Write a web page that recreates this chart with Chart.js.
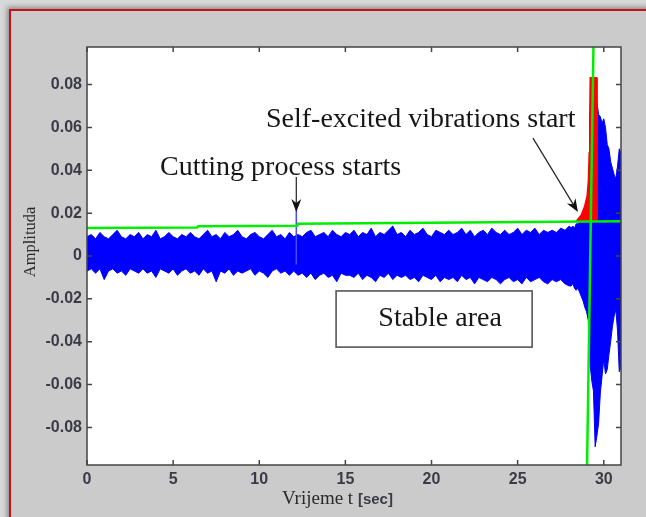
<!DOCTYPE html>
<html>
<head>
<meta charset="utf-8">
<script src="https://cdn.jsdelivr.net/npm/chart.js@4/dist/chart.umd.min.js"></script>
<style>
  html, body { margin: 0; padding: 0; background: #d8d8d8; overflow: hidden; }
  #frame { position: absolute; left: 9px; top: 9px; width: 700px; height: 600px;
    border-left: 2px solid #c4121a; border-top: 2px solid #c4121a; background: #cbcbcb;
    box-shadow: -2px -2px 5px rgba(0,0,0,0.35); }
  #wrap { position: absolute; left: 0; top: 0; width: 646px; height: 517px; }
</style>
</head>
<body>
<div id="frame"></div>
<div id="wrap"><canvas id="myChart"></canvas></div>
<script>
// signal envelope in thousandths, one value every 0.25 s from 0 to 28 s
const coarseStep = 0.25
const coarseHi = [
  9, 10, 8, 11, 9, 8, 10, 12, 9, 8, 10, 9, 11,
  8, 10, 9, 12, 8, 9, 11, 9, 8, 10, 9, 11,
  9, 8, 10, 12, 9, 10, 8, 11, 9, 10, 12, 9,
  8, 10, 11, 9, 8, 10, 12, 9, 10, 8, 11, 9,
  10, 9, 11, 12, 9, 10, 11, 9, 12, 10, 9, 11,
  10, 12, 9, 11, 10, 13, 9, 11, 10, 12, 14, 10,
  11, 9, 12, 10, 11, 13, 10, 9, 12, 11, 10, 12,
  10, 11, 13, 10, 12, 9, 11, 12, 10, 13, 11, 10,
  12, 10, 11, 13, 10, 12, 11, 13, 10, 12, 11, 12,
  11, 13, 12, 14
]
const coarseLo = [
  -7, -6, -8, -6, -11, -7, -6, -8, -7, -9, -6, -7, -8,
  -6, -8, -7, -10, -6, -7, -8, -6, -9, -7, -6, -8,
  -7, -9, -6, -8, -7, -12, -7, -8, -6, -9, -7, -8,
  -7, -6, -9, -7, -8, -10, -7, -6, -8, -7, -9, -7,
  -9, -8, -10, -8, -11, -9, -8, -10, -9, -12, -8, -9,
  -9, -10, -8, -11, -9, -10, -12, -9, -10, -8, -11, -9,
  -10, -9, -11, -10, -12, -9, -10, -11, -9, -12, -10, -11,
  -10, -12, -9, -11, -10, -13, -10, -11, -12, -10, -11, -13,
  -11, -10, -12, -11, -13, -10, -12, -11, -10, -12, -13, -11,
  -12, -11, -13, -14
]
// finer envelope, every 0.1 s from 28.1 to 31 s
const fineStart = 28.1
const fineStep = 0.1
const fineHi = [13, 14, 13, 15, 15, 16, 17, 18, 20, 22, 30, 45, 68, 73, 71,
  72, 66, 65, 62, 64, 60, 52, 50, 44, 41, 38, 36, 42, 50, 48]
const fineLo = [-14, -13, -15, -16, -15, -17, -19, -21, -24, -26, -30, -50, -58, -63, -89,
  -84, -78, -64, -56, -48, -55, -53, -46, -40, -33, -28, -25, -35, -54, -52]

// stability threshold (green) and chatter onset
const greenT = [0, 6.4, 6.45, 12.2, 12.25, 20, 31]
const greenA = [0.0131, 0.0133, 0.0139, 0.0141, 0.0150, 0.0155, 0.0162]
const onsetT = [29.03, 29.4]
const onsetA = [-0.0975, 0.0975]
// growing self-excited part (red)
const redT = [28.4, 28.7, 28.9, 29.05, 29.12, 29.17, 29.2, 29.23, 29.57, 29.6]
const redA = [0.016, 0.019, 0.023, 0.028, 0.035, 0.048, 0.065, 0.083, 0.083, 0.016]
// first contact of the tool
const cutT = 12.15
const cutA = [-0.004, 0.0225]

const xTicks = [0, 5, 10, 15, 20, 25, 30]
const yTicks = [-0.08, -0.06, -0.04, -0.02, 0, 0.02, 0.04, 0.06, 0.08]

function handleOnLoad(){
  let hiPts = []
  let loPts = []
  coarseHi.forEach((v, i) => hiPts.push({x: i * coarseStep, y: v / 1000}))
  coarseLo.forEach((v, i) => loPts.push({x: i * coarseStep, y: v / 1000}))
  fineHi.forEach((v, i) => hiPts.push({x: fineStart + i * fineStep, y: v / 1000}))
  fineLo.forEach((v, i) => loPts.push({x: fineStart + i * fineStep, y: v / 1000}))

  const pair = (xs, ys) => xs.map((x, i) => ({x: x, y: ys[i]}))
  const serif = "'Liberation Serif', 'Times New Roman', serif"
  const sans = "'Liberation Sans', Arial, sans-serif"

  const decor = {
    id: 'decor',
    beforeDatasetsDraw(chart){
      const {ctx, chartArea: a} = chart
      ctx.save()
      ctx.fillStyle = '#ffffff'
      ctx.fillRect(a.left, a.top, a.right - a.left, a.bottom - a.top)
      ctx.restore()
    },
    afterDatasetsDraw(chart){
      const {ctx, chartArea: a, scales} = chart
      ctx.save()
      ctx.strokeStyle = '#444'
      ctx.lineWidth = 1.5
      ctx.beginPath()
      xTicks.forEach(v => {
        const px = scales.x.getPixelForValue(v)
        ctx.moveTo(px, a.bottom); ctx.lineTo(px, a.bottom - 5)
        ctx.moveTo(px, a.top); ctx.lineTo(px, a.top + 5)
      })
      yTicks.forEach(v => {
        const py = scales.y.getPixelForValue(v)
        ctx.moveTo(a.left, py); ctx.lineTo(a.left + 5, py)
        ctx.moveTo(a.right, py); ctx.lineTo(a.right - 5, py)
      })
      ctx.stroke()
      ctx.strokeRect(a.left, a.top, a.right - a.left, a.bottom - a.top)
      ctx.restore()
    },
    afterDraw(chart){
      const {ctx, scales} = chart
      const X = v => scales.x.getPixelForValue(v)
      const Y = v => scales.y.getPixelForValue(v)
      ctx.save()

      // axis titles
      ctx.fillStyle = '#2a2a2a'
      ctx.font = '16.5px ' + serif
      ctx.textAlign = 'center'
      ctx.textBaseline = 'middle'
      ctx.save()
      ctx.translate(31, 242)
      ctx.rotate(-Math.PI / 2)
      ctx.fillText('Amplituda', 0, 0)
      ctx.restore()
      ctx.textAlign = 'left'
      ctx.textBaseline = 'alphabetic'
      ctx.font = '19px ' + serif
      ctx.fillText('Vrijeme t', 282, 504)
      const w = ctx.measureText('Vrijeme t ').width
      ctx.font = 'bold 15px ' + sans
      ctx.fillStyle = '#3b3b48'
      ctx.fillText('[sec]', 282 + w, 504)

      // notes
      ctx.fillStyle = '#161616'
      ctx.font = '28px ' + serif
      ctx.fillText('Self-excited vibrations start', X(10.39), Y(0.0602))
      ctx.fillText('Cutting process starts', X(4.24), Y(0.0378))

      drawArrow(ctx, X(cutT), Y(0.0369), X(cutT), Y(0.0205))
      drawArrow(ctx, X(25.89), Y(0.055), X(28.5), Y(0.0205))

      // stable region label
      const bx0 = X(14.46), bx1 = X(25.84), by0 = Y(-0.0163), by1 = Y(-0.0425)
      ctx.fillStyle = '#ffffff'
      ctx.fillRect(bx0, by0, bx1 - bx0, by1 - by0)
      ctx.strokeStyle = '#555'
      ctx.lineWidth = 1.6
      ctx.strokeRect(bx0, by0, bx1 - bx0, by1 - by0)
      ctx.fillStyle = '#161616'
      ctx.textAlign = 'center'
      ctx.fillText('Stable area', (bx0 + bx1) / 2 + 6, by0 + 35)
      ctx.restore()
    }
  }

  function drawArrow(ctx, x0, y0, x1, y1){
    const ang = Math.atan2(y1 - y0, x1 - x0)
    const len = 13, half = 5
    const bx = x1 - len * Math.cos(ang), by = y1 - len * Math.sin(ang)
    ctx.save()
    ctx.strokeStyle = '#222'
    ctx.fillStyle = '#111'
    ctx.lineWidth = 1.2
    ctx.beginPath()
    ctx.moveTo(x0, y0); ctx.lineTo(bx + 4 * Math.cos(ang), by + 4 * Math.sin(ang))
    ctx.stroke()
    ctx.beginPath()
    ctx.moveTo(x1, y1)
    ctx.lineTo(bx + half * Math.sin(ang), by - half * Math.cos(ang))
    ctx.lineTo(bx + 4 * Math.cos(ang), by + 4 * Math.sin(ang))
    ctx.lineTo(bx - half * Math.sin(ang), by + half * Math.cos(ang))
    ctx.closePath()
    ctx.fill()
    ctx.restore()
  }

  const tickFont = {family: sans, size: 16, weight: 'bold'}

  new Chart("myChart", {
    type: "line",
    data: {
      datasets: [
        {data: hiPts, borderColor: '#0000ff', borderWidth: 1, pointRadius: 0, fill: false, order: 5},
        {data: loPts, borderColor: '#0000ff', borderWidth: 1, pointRadius: 0, fill: 0,
          backgroundColor: '#0000ff', order: 6},
        {data: pair([cutT, cutT], cutA), borderColor: '#4a4aff', borderWidth: 1.5, pointRadius: 0, order: 4},
        {data: pair(redT, redA), borderColor: '#ff0000', borderWidth: 2, pointRadius: 0,
          fill: {value: 0.016}, backgroundColor: '#ff0000', order: 3},
        {data: pair(greenT, greenA), borderColor: '#00ee00', borderWidth: 2.5, pointRadius: 0, order: 1},
        {data: pair(onsetT, onsetA), borderColor: '#00ee00', borderWidth: 2.5, pointRadius: 0, order: 1}
      ]
    },
    options: {
      responsive: true,
      maintainAspectRatio: false,
      animation: false,
      layout: {padding: {top: 47, right: 25, left: 0, bottom: 0}},
      plugins: {legend: {display: false}, tooltip: {enabled: false}},
      elements: {line: {tension: 0}},
      scales: {
        x: {
          type: 'linear', min: 0, max: 31,
          afterFit: s => { s.height = 52 },
          afterBuildTicks: s => { s.ticks = xTicks.map(v => ({value: v})) },
          grid: {display: false, drawTicks: false},
          border: {display: false},
          ticks: {font: tickFont, color: '#3b3b48', padding: 5, maxRotation: 0}
        },
        y: {
          type: 'linear', min: -0.0975, max: 0.0975,
          afterFit: s => { s.width = 87 },
          afterBuildTicks: s => { s.ticks = yTicks.map(v => ({value: v})) },
          grid: {display: false, drawTicks: false},
          border: {display: false},
          ticks: {font: tickFont, color: '#3b3b48', padding: 5,
            callback: v => Math.abs(v) < 1e-9 ? '0' : v.toFixed(2)}
        }
      }
    },
    plugins: [decor]
  })
}

handleOnLoad()
</script>
</body>
</html>
